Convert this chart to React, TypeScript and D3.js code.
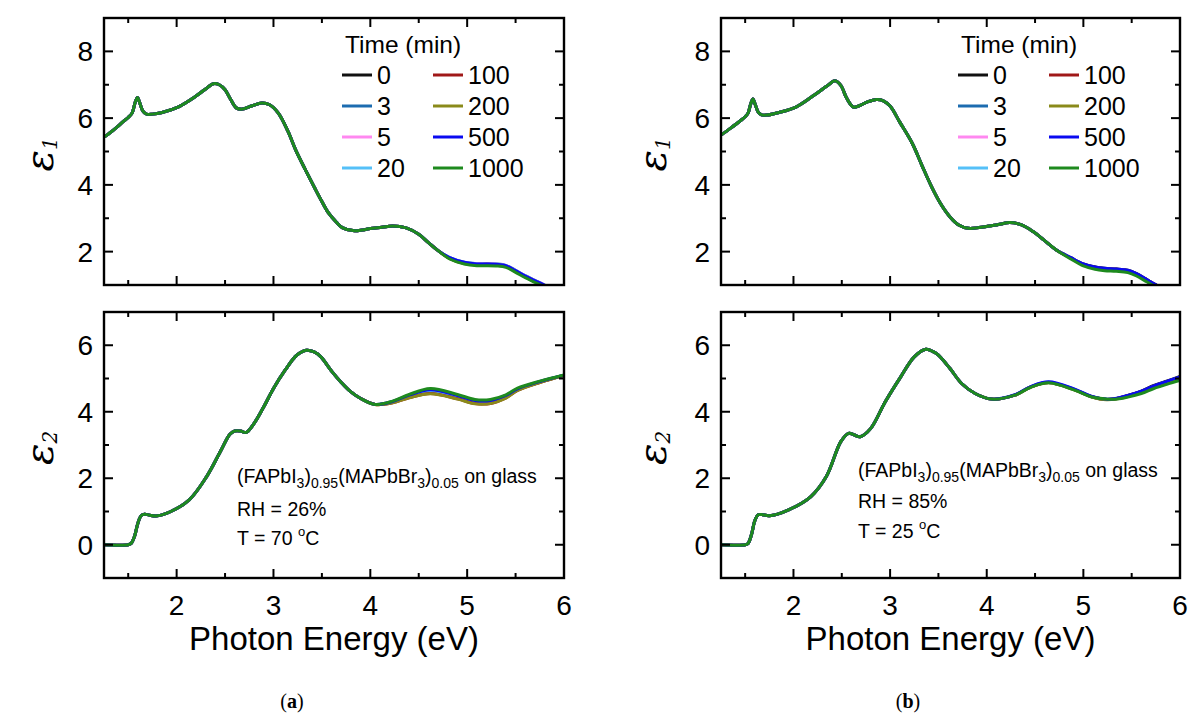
import React from "react";
import * as d3 from "d3";

// ---------------- categories / legend ----------------
const timeLabels = ["0", "3", "5", "20", "100", "200", "500", "1000"];
const seriesColors = ["#111111", "#1c6cb0", "#ff88f0", "#55c0f8", "#a01818", "#8a8a1a", "#0a0af0", "#1e8a1e"];

// ---------------- ticks ----------------
const xTickValues = [2, 3, 4, 5, 6];
const xMinorTicks = [1.5, 2.5, 3.5, 4.5, 5.5];
const e1TickValues = [2, 4, 6, 8];
const e1MinorTicks = [3, 5, 7];
const e2TickValues = [0, 2, 4, 6];
const e2MinorTicks = [1, 3, 5];
const xDomain = [1.25, 6];
const e1Domain = [1, 9];
const e2Domain = [-1, 7];

// ---------------- panel (a) eps1 ----------------
const aE1HeadE = [1.25, 1.35, 1.45, 1.5, 1.54, 1.57, 1.595, 1.62, 1.65, 1.69, 1.75, 1.85, 2.02, 2.2, 2.32, 2.38, 2.44, 2.5, 2.56, 2.62, 2.68, 2.78, 2.88, 2.96, 3.05, 3.15, 3.23, 3.33, 3.42, 3.5, 3.57, 3.65, 3.71, 3.82, 3.92, 4.0, 4.12, 4.23, 4.37, 4.5, 4.6, 4.7];
const aE1HeadV = [5.43, 5.65, 5.9, 6.02, 6.15, 6.45, 6.62, 6.45, 6.22, 6.12, 6.12, 6.17, 6.34, 6.66, 6.92, 7.03, 7.0, 6.85, 6.55, 6.3, 6.27, 6.37, 6.45, 6.4, 6.15, 5.6, 5.04, 4.45, 3.94, 3.5, 3.15, 2.88, 2.72, 2.63, 2.65, 2.69, 2.73, 2.77, 2.71, 2.52, 2.27, 2.03];
const aE1TailE = [4.82, 4.97, 5.1, 5.2, 5.3, 5.4, 5.5, 5.6, 5.7, 5.8, 5.92];
const aE1Tails = [
  [1.8, 1.66, 1.61, 1.61, 1.6, 1.56, 1.41, 1.25, 1.11, 0.97, 0.79],
  [1.82, 1.68, 1.64, 1.64, 1.63, 1.59, 1.44, 1.28, 1.14, 1.0, 0.82],
  [1.81, 1.67, 1.63, 1.63, 1.62, 1.58, 1.43, 1.27, 1.13, 0.99, 0.81],
  [1.81, 1.67, 1.62, 1.62, 1.61, 1.57, 1.42, 1.26, 1.12, 0.98, 0.8],
  [1.8, 1.65, 1.61, 1.62, 1.61, 1.56, 1.41, 1.25, 1.11, 0.97, 0.79],
  [1.79, 1.64, 1.6, 1.6, 1.59, 1.55, 1.4, 1.24, 1.1, 0.96, 0.78],
  [1.82, 1.68, 1.63, 1.63, 1.62, 1.58, 1.43, 1.27, 1.13, 0.99, 0.81],
  [1.78, 1.63, 1.58, 1.58, 1.57, 1.53, 1.38, 1.22, 1.08, 0.94, 0.76],
];

// ---------------- panel (a) eps2 ----------------
const aE2HeadE = [1.25, 1.5, 1.53, 1.565, 1.6, 1.635, 1.67, 1.72, 1.8, 1.94, 2.13, 2.31, 2.46, 2.55, 2.6, 2.66, 2.72, 2.8, 2.9, 3.0, 3.12, 3.24, 3.34, 3.42, 3.49, 3.6, 3.7, 3.79, 3.9, 4.05];
const aE2HeadV = [0, 0, 0.04, 0.25, 0.65, 0.88, 0.92, 0.89, 0.87, 1.0, 1.35, 2.05, 2.85, 3.32, 3.42, 3.42, 3.38, 3.65, 4.15, 4.7, 5.25, 5.7, 5.85, 5.8, 5.65, 5.22, 4.88, 4.62, 4.4, 4.22];
const aE2TailE = [4.23, 4.4, 4.62, 4.9, 5.08, 5.24, 5.4, 5.52, 5.75, 6.0];
const aE2Tails = [
  [4.29, 4.45, 4.58, 4.42, 4.28, 4.28, 4.44, 4.66, 4.89, 5.1],
  [4.3, 4.47, 4.62, 4.46, 4.31, 4.31, 4.46, 4.67, 4.9, 5.1],
  [4.29, 4.46, 4.6, 4.44, 4.3, 4.3, 4.45, 4.66, 4.89, 5.1],
  [4.29, 4.46, 4.6, 4.44, 4.3, 4.3, 4.45, 4.66, 4.89, 5.1],
  [4.27, 4.42, 4.55, 4.39, 4.25, 4.25, 4.42, 4.64, 4.88, 5.09],
  [4.27, 4.42, 4.54, 4.38, 4.24, 4.25, 4.41, 4.64, 4.88, 5.09],
  [4.31, 4.5, 4.66, 4.49, 4.34, 4.34, 4.49, 4.69, 4.91, 5.1],
  [4.32, 4.52, 4.7, 4.52, 4.37, 4.37, 4.51, 4.71, 4.92, 5.11],
];

// ---------------- panel (b) eps1 ----------------
const bE1HeadE = [1.25, 1.35, 1.45, 1.5, 1.53, 1.555, 1.58, 1.605, 1.635, 1.67, 1.72, 1.85, 2.03, 2.2, 2.35, 2.43, 2.49, 2.55, 2.62, 2.68, 2.76, 2.86, 2.93, 3.0, 3.1, 3.23, 3.33, 3.43, 3.52, 3.62, 3.71, 3.81, 3.92, 4.01, 4.12, 4.24, 4.36, 4.48, 4.59, 4.72];
const bE1HeadV = [5.49, 5.7, 5.92, 6.04, 6.15, 6.4, 6.57, 6.4, 6.18, 6.1, 6.09, 6.17, 6.34, 6.66, 6.97, 7.12, 6.98, 6.6, 6.33, 6.37, 6.48, 6.56, 6.52, 6.36, 5.88, 5.24, 4.58, 3.94, 3.45, 3.04, 2.8, 2.7, 2.72, 2.76, 2.81, 2.87, 2.8, 2.6, 2.35, 2.05];
const bE1TailE = [4.87, 5.0, 5.12, 5.22, 5.34, 5.46, 5.55, 5.63, 5.7, 5.78, 5.9];
const bE1Tails = [
  [1.82, 1.63, 1.54, 1.5, 1.48, 1.44, 1.34, 1.21, 1.09, 0.96, 0.76],
  [1.81, 1.62, 1.53, 1.49, 1.47, 1.43, 1.33, 1.2, 1.08, 0.95, 0.75],
  [1.81, 1.62, 1.52, 1.48, 1.46, 1.42, 1.32, 1.19, 1.07, 0.94, 0.74],
  [1.81, 1.62, 1.52, 1.48, 1.46, 1.42, 1.32, 1.19, 1.07, 0.94, 0.74],
  [1.81, 1.62, 1.53, 1.49, 1.47, 1.43, 1.33, 1.2, 1.08, 0.95, 0.75],
  [1.8, 1.61, 1.51, 1.47, 1.45, 1.41, 1.31, 1.18, 1.06, 0.93, 0.73],
  [1.82, 1.63, 1.54, 1.5, 1.48, 1.44, 1.34, 1.21, 1.09, 0.96, 0.76],
  [1.78, 1.57, 1.47, 1.43, 1.41, 1.37, 1.27, 1.14, 1.02, 0.9, 0.7],
];

// ---------------- panel (b) eps2 ----------------
const bE2HeadE = [1.25, 1.5, 1.53, 1.565, 1.6, 1.635, 1.67, 1.75, 1.95, 2.18, 2.34, 2.49, 2.57, 2.63, 2.69, 2.8, 2.95, 3.11, 3.25, 3.37, 3.45, 3.5, 3.62, 3.74, 3.88, 4.05];
const bE2HeadV = [0, 0, 0.04, 0.3, 0.72, 0.9, 0.91, 0.87, 1.05, 1.45, 2.05, 3.1, 3.35, 3.3, 3.25, 3.5, 4.3, 5.05, 5.65, 5.88, 5.8, 5.7, 5.3, 4.85, 4.55, 4.38];
const bE2TailE = [4.29, 4.45, 4.64, 4.91, 5.08, 5.24, 5.35, 5.46, 5.6, 5.73, 5.87, 6.0];
const bE2Tails = [
  [4.5, 4.74, 4.88, 4.66, 4.46, 4.37, 4.41, 4.49, 4.62, 4.79, 4.93, 5.06],
  [4.5, 4.74, 4.89, 4.67, 4.46, 4.37, 4.4, 4.48, 4.61, 4.77, 4.91, 5.04],
  [4.5, 4.74, 4.88, 4.66, 4.46, 4.37, 4.4, 4.47, 4.6, 4.76, 4.9, 5.02],
  [4.5, 4.74, 4.88, 4.66, 4.46, 4.37, 4.4, 4.47, 4.6, 4.76, 4.9, 5.02],
  [4.5, 4.74, 4.88, 4.66, 4.46, 4.37, 4.4, 4.48, 4.61, 4.77, 4.91, 5.03],
  [4.5, 4.73, 4.87, 4.65, 4.45, 4.36, 4.39, 4.46, 4.59, 4.75, 4.88, 5.0],
  [4.51, 4.75, 4.9, 4.68, 4.47, 4.38, 4.41, 4.49, 4.62, 4.78, 4.92, 5.05],
  [4.5, 4.73, 4.87, 4.65, 4.45, 4.38, 4.38, 4.44, 4.55, 4.7, 4.83, 4.94],
];

type Pt = [number, number];
function buildSeries(headE: number[], headV: number[], tailE: number[], tails: number[][]): Pt[][] {
  return tails.map((t) => [
    ...headE.map((e, i) => [e, headV[i]] as Pt),
    ...tailE.map((e, i) => [e, t[i]] as Pt),
  ]);
}

const SANS = "'Liberation Sans', Arial, sans-serif";

type PlotProps = {
  id: string;
  left: number;
  right: number;
  top: number;
  bottom: number;
  yDomain: number[];
  yTicks: number[];
  yMinor: number[];
  series: Pt[][];
  showXLabels: boolean;
  yLabelSub: string;
  yLabelX: number;
};

function Plot(p: PlotProps) {
  const xs = d3.scaleLinear().domain(xDomain).range([p.left, p.right]);
  const ys = d3.scaleLinear().domain(p.yDomain).range([p.bottom, p.top]);
  const line = d3
    .line<Pt>()
    .x((d) => xs(d[0]))
    .y((d) => ys(d[1]))
    .curve(d3.curveCatmullRom.alpha(0.5));
  const MAJ = 9;
  const MIN = 5;
  const clip = `clip-${p.id}`;
  const yMid = (p.top + p.bottom) / 2;
  return (
    <g>
      <defs>
        <clipPath id={clip}>
          <rect x={p.left} y={p.top} width={p.right - p.left} height={p.bottom - p.top} />
        </clipPath>
      </defs>
      <g clipPath={`url(#${clip})`}>
        {p.series.map((s, i) => (
          <path key={i} d={line(s) || ""} fill="none" stroke={seriesColors[i]} strokeWidth={3} strokeLinejoin="round" />
        ))}
      </g>
      {/* ticks */}
      <g stroke="#000" strokeWidth={2}>
        {xTickValues.map((t) => (
          <g key={"xt" + t}>
            <line x1={xs(t)} x2={xs(t)} y1={p.bottom} y2={p.bottom - MAJ} />
            <line x1={xs(t)} x2={xs(t)} y1={p.top} y2={p.top + MAJ} />
          </g>
        ))}
        {xMinorTicks.map((t) => (
          <g key={"xm" + t}>
            <line x1={xs(t)} x2={xs(t)} y1={p.bottom} y2={p.bottom - MIN} />
            <line x1={xs(t)} x2={xs(t)} y1={p.top} y2={p.top + MIN} />
          </g>
        ))}
        {p.yTicks.map((t) => (
          <g key={"yt" + t}>
            <line x1={p.left} x2={p.left + MAJ} y1={ys(t)} y2={ys(t)} />
            <line x1={p.right} x2={p.right - MAJ} y1={ys(t)} y2={ys(t)} />
          </g>
        ))}
        {p.yMinor.map((t) => (
          <g key={"ym" + t}>
            <line x1={p.left} x2={p.left + MIN} y1={ys(t)} y2={ys(t)} />
            <line x1={p.right} x2={p.right - MIN} y1={ys(t)} y2={ys(t)} />
          </g>
        ))}
      </g>
      <rect x={p.left} y={p.top} width={p.right - p.left} height={p.bottom - p.top} fill="none" stroke="#000" strokeWidth={2.4} />
      {/* y tick labels */}
      {p.yTicks.map((t) => (
        <text key={"yl" + t} x={p.left - 11} y={ys(t)} dy="0.36em" textAnchor="end" fontFamily={SANS} fontSize={28} fill="#000">
          {t}
        </text>
      ))}
      {p.showXLabels &&
        xTickValues.map((t) => (
          <text key={"xl" + t} x={xs(t)} y={p.bottom + 37} textAnchor="middle" fontFamily={SANS} fontSize={28} fill="#000">
            {t}
          </text>
        ))}
      {/* y axis title */}
      <text
        transform={`translate(${p.yLabelX},${yMid + 20}) rotate(-90)`}
        fontFamily="'DejaVu Serif', serif"
        fontStyle="italic"
        fontSize={40}
        fill="#000"
      >
        ε<tspan fontSize={20} dy={4}>{p.yLabelSub}</tspan>
      </text>
    </g>
  );
}

function Legend({ right }: { right: number }) {
  const x0 = right - 222;
  const col2 = x0 + 91;
  const rows = [75, 106, 137, 168];
  return (
    <g fontFamily={SANS} fill="#000">
      <text x={right - 219} y={53} fontSize={24.5}>
        Time (min)
      </text>
      {timeLabels.map((lab, i) => {
        const c = i < 4 ? 0 : 1;
        const r = i % 4;
        const lx = c === 0 ? x0 : col2;
        const y = rows[r];
        return (
          <g key={lab}>
            <line x1={lx} x2={lx + 30} y1={y} y2={y} stroke={seriesColors[i]} strokeWidth={3} />
            <text x={lx + 35} y={y} dy="0.36em" fontSize={25}>
              {lab}
            </text>
          </g>
        );
      })}
    </g>
  );
}

function Annotation({ x, y, rh, temp }: { x: number; y: number[]; rh: string; temp: string }) {
  const fs = 19.5;
  const ss = 14;
  const d = 5;
  return (
    <g fontFamily={SANS} fill="#000" fontSize={fs}>
      <text x={x} y={y[0]}>
        (FAPbI
        <tspan fontSize={ss} dy={d}>3</tspan>
        <tspan dy={-d}>)</tspan>
        <tspan fontSize={ss} dy={d}>0.95</tspan>
        <tspan dy={-d}>(MAPbBr</tspan>
        <tspan fontSize={ss} dy={d}>3</tspan>
        <tspan dy={-d}>)</tspan>
        <tspan fontSize={ss} dy={d}>0.05</tspan>
        <tspan dy={-d}> on glass</tspan>
      </text>
      <text x={x} y={y[1]}>RH = {rh}</text>
      <text x={x} y={y[2]}>
        {`T = ${temp} `}
        <tspan fontSize={13} dy={-9}>o</tspan>
        <tspan dy={9}>C</tspan>
      </text>
    </g>
  );
}

const panelA = {
  left: 104,
  right: 564,
  e1: buildSeries(aE1HeadE, aE1HeadV, aE1TailE, aE1Tails),
  e2: buildSeries(aE2HeadE, aE2HeadV, aE2TailE, aE2Tails),
};
const panelB = {
  left: 721,
  right: 1180,
  e1: buildSeries(bE1HeadE, bE1HeadV, bE1TailE, bE1Tails),
  e2: buildSeries(bE2HeadE, bE2HeadV, bE2TailE, bE2Tails),
};

export default function App() {
  const topT = 18, topB = 285, botT = 312, botB = 578;
  return (
    <svg
      width={1192}
      height={715}
      viewBox="0 0 1192 715"
      style={{ position: "absolute", left: 0, top: 0, display: "block", background: "#fff" }}
    >
      <rect x={0} y={0} width={1192} height={715} fill="#fff" />
      {/* Panel a */}
      <Plot id="a1" left={panelA.left} right={panelA.right} top={topT} bottom={topB} yDomain={e1Domain} yTicks={e1TickValues} yMinor={e1MinorTicks} series={panelA.e1} showXLabels={false} yLabelSub="1" yLabelX={53} />
      <Plot id="a2" left={panelA.left} right={panelA.right} top={botT} bottom={botB} yDomain={e2Domain} yTicks={e2TickValues} yMinor={e2MinorTicks} series={panelA.e2} showXLabels={true} yLabelSub="2" yLabelX={53} />
      <Legend right={panelA.right} />
      <Annotation x={237} y={[483, 516, 545]} rh="26%" temp="70" />
      <text x={(panelA.left + panelA.right) / 2} y={650} textAnchor="middle" fontFamily={SANS} fontSize={33} fill="#000">
        Photon Energy (eV)
      </text>
      <text x={292} y={708} textAnchor="middle" fontFamily="'Liberation Serif', 'Times New Roman', serif" fontSize={20} fill="#000">
        (<tspan fontWeight="bold">a</tspan>)
      </text>

      {/* Panel b */}
      <Plot id="b1" left={panelB.left} right={panelB.right} top={topT} bottom={topB} yDomain={e1Domain} yTicks={e1TickValues} yMinor={e1MinorTicks} series={panelB.e1} showXLabels={false} yLabelSub="1" yLabelX={666} />
      <Plot id="b2" left={panelB.left} right={panelB.right} top={botT} bottom={botB} yDomain={e2Domain} yTicks={e2TickValues} yMinor={e2MinorTicks} series={panelB.e2} showXLabels={true} yLabelSub="2" yLabelX={666} />
      <Legend right={panelB.right} />
      <Annotation x={858} y={[477, 508, 538]} rh="85%" temp="25" />
      <text x={(panelB.left + panelB.right) / 2} y={650} textAnchor="middle" fontFamily={SANS} fontSize={33} fill="#000">
        Photon Energy (eV)
      </text>
      <text x={908} y={708} textAnchor="middle" fontFamily="'Liberation Serif', 'Times New Roman', serif" fontSize={20} fill="#000">
        (<tspan fontWeight="bold">b</tspan>)
      </text>
    </svg>
  );
}
